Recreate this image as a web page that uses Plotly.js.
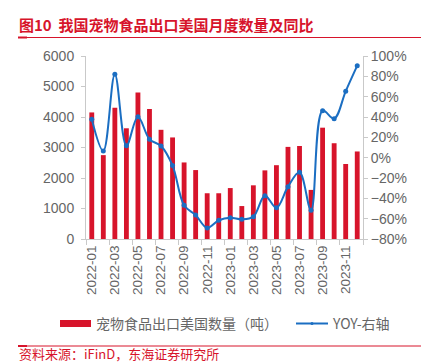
<!DOCTYPE html>
<html><head><meta charset="utf-8">
<script src="https://cdn.plot.ly/plotly-3.0.1.min.js"></script>
<style>html,body{margin:0;padding:0;background:#fff;}#chart{width:421px;height:362px;}</style>
</head><body><div id="chart"></div>
<script>
const months = ['2022-01','2022-02','2022-03','2022-04','2022-05','2022-06','2022-07','2022-08','2022-09','2022-10','2022-11','2022-12',
                '2023-01','2023-02','2023-03','2023-04','2023-05','2023-06','2023-07','2023-08','2023-09','2023-10','2023-11','2023-12'];
const volume = [4150,2750,4300,3630,4800,4260,3580,3330,2510,2260,1500,1500,
                1670,1080,1760,2250,2420,3020,3050,1610,3650,3140,2460,2870];
const yoy = [0.378,0.066,0.82,0.118,0.403,0.181,0.115,-0.078,-0.468,-0.564,-0.691,-0.616,
             -0.59,-0.606,-0.58,-0.374,-0.492,-0.285,-0.144,-0.518,0.462,0.384,0.653,0.905];
const barName = '宠物食品出口美国数量（吨）';
const lineName = 'YOY-右轴';
const titleText = '图10  我国宠物食品出口美国月度数量及同比';
const sourceText = '资料来源：iFinD，东海证券研究所';

const RED = '#D7142B';
const BLUE = '#1B6EC2';
const GRAY = '#C9C9C9';
const TXT = '#666666';
const NUM = 'Liberation Sans, Arial, sans-serif';
const CJK = 'Noto Sans CJK SC, sans-serif';

const idx = months.map((m,i)=>i);
const labelIdx = idx.filter(i=>i%2===0);
const boundaries = labelIdx.map(i=>i-0.5).concat([months.length-0.5]);

const traces = [
  {type:'bar', x: idx, y: volume, name: barName, marker:{color:RED}, width:0.42, yaxis:'y', showlegend:false, hoverinfo:'skip'},
  {type:'scatter', mode:'lines+markers', x: idx, y: yoy, name: lineName, yaxis:'y2',
   line:{color:BLUE, width:2, shape:'spline', smoothing:1}, marker:{color:BLUE, size:5}, showlegend:false}
];

// plot area in pixels: x 86..363, y 56..239
const L=86, R=363, T=56, B=239;
const px = v => (v-L)/(R-L);
const py = v => (B-v)/(B-T);

const layout = {
  width:421, height:362,
  margin:{l:L, r:421-R, t:T, b:362-B, pad:0},
  paper_bgcolor:'#fff', plot_bgcolor:'#fff',
  showlegend:false,
  bargap:0.5,
  xaxis:{
    range:[-0.5, months.length-0.5], tickmode:'array',
    tickvals: labelIdx, ticktext: labelIdx.map(i=>months[i]),
    ticks:'', tickangle:-90, tickfont:{family:NUM, size:13.5, color:TXT},
    showline:true, linecolor:GRAY, linewidth:1, showgrid:false, zeroline:false,
    minor:{tickmode:'array', tickvals: boundaries, ticks:'outside', ticklen:5, tickcolor:GRAY, showgrid:false},
    fixedrange:true
  },
  yaxis:{
    range:[0,6000], dtick:1000, tick0:0, tickfont:{family:NUM, size:14, color:TXT},
    showline:true, linecolor:GRAY, linewidth:1, ticks:'outside', ticklen:4, tickcolor:GRAY,
    showgrid:false, zeroline:false, ticklabelstandoff:4
  },
  yaxis2:{
    overlaying:'y', side:'right', range:[-0.8,1.0], dtick:0.2, tick0:0, tickformat:'.0%',
    tickfont:{family:NUM, size:14, color:TXT},
    showline:true, linecolor:GRAY, linewidth:1, ticks:'outside', ticklen:4, tickcolor:GRAY,
    showgrid:false, zeroline:false
  },
  shapes:[
    {type:'line', xref:'paper', yref:'paper', x0:px(18), x1:px(421), y0:py(37.5), y1:py(37.5), line:{color:RED, width:1}},
    {type:'line', xref:'paper', yref:'paper', x0:px(18), x1:px(27), y0:py(37.5), y1:py(37.5), line:{color:RED, width:2}},
    {type:'line', xref:'paper', yref:'paper', x0:px(18), x1:px(421), y0:py(346), y1:py(346), line:{color:RED, width:1}},
    {type:'line', xref:'paper', yref:'paper', x0:px(18), x1:px(27), y0:py(346), y1:py(346), line:{color:RED, width:2}},
    {type:'rect', xref:'paper', yref:'paper', x0:px(60), x1:px(91), y0:py(320), y1:py(327), fillcolor:RED, line:{width:0}},
    {type:'line', xref:'paper', yref:'paper', x0:px(296), x1:px(328), y0:py(323.5), y1:py(323.5), line:{color:BLUE, width:2}},
    {type:'circle', xref:'paper', yref:'paper', x0:px(310.5), x1:px(313.5), y0:py(322), y1:py(325), fillcolor:BLUE, line:{width:0}}
  ],
  annotations:[
    {text:titleText, xref:'paper', yref:'paper', x:px(17), y:py(24.5), xanchor:'left', yanchor:'middle', showarrow:false,
     font:{family:CJK, size:15, color:RED, weight:'bold'}},
    {text:barName, xref:'paper', yref:'paper', x:px(94), y:py(323), xanchor:'left', yanchor:'middle', showarrow:false,
     font:{family:CJK, size:14, color:TXT}},
    {text:lineName, xref:'paper', yref:'paper', x:px(330), y:py(323), xanchor:'left', yanchor:'middle', showarrow:false,
     font:{family:CJK, size:14, color:TXT}},
    {text:sourceText, xref:'paper', yref:'paper', x:px(17), y:py(353.5), xanchor:'left', yanchor:'middle', showarrow:false,
     font:{family:CJK, size:13, color:RED}}
  ]
};

Plotly.newPlot('chart', traces, layout, {displayModeBar:false, staticPlot:true});
</script>
</body></html>
